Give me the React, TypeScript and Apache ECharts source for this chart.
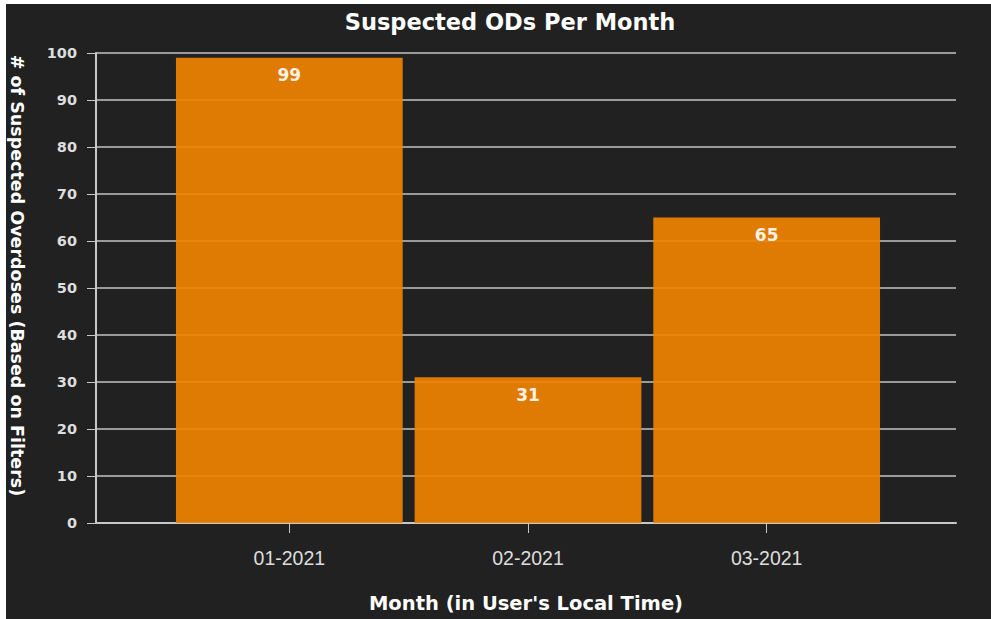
import React, { useEffect, useRef } from "react";
import * as echarts from "echarts";

const categories = ["01-2021", "02-2021", "03-2021"];
const values = [99, 31, 65];
const titleText = "Suspected ODs Per Month";
const yName = "# of Suspected Overdoses (Based on Filters)";
const xName = "Month (in User's Local Time)";

const FONT = 'Arial, "Liberation Sans", sans-serif';
const WIDE = '"DejaVu Sans", Verdana, sans-serif';

export default function App() {
  const ref = useRef<HTMLDivElement>(null);
  useEffect(() => {
    if (!ref.current) return;
    const chart = echarts.init(ref.current, undefined, { renderer: "svg" });
    chart.setOption({
      animation: false,
      backgroundColor: "#ffffff",
      textStyle: { fontFamily: FONT },
      graphic: [
        {
          type: "rect",
          z: -10,
          silent: true,
          shape: { x: 6, y: 4, width: 985, height: 615 },
          style: { fill: "#212121" },
        },
      ],
      title: {
        text: titleText,
        left: 505,
        top: 5,
        textAlign: "center",
        textStyle: { color: "#ffffff", fontSize: 22.5, fontWeight: "bold", fontFamily: WIDE },
      },
      grid: [
        { left: 96, right: 35, top: 53, bottom: 96, outerBoundsMode: "none", containLabel: false },
        { left: 170, right: 105, top: 53, bottom: 96, outerBoundsMode: "none", containLabel: false },
      ],
      xAxis: [
        {
          type: "category",
          gridIndex: 0,
          data: categories,
          axisLine: { show: true, lineStyle: { color: "#c8c8c8", width: 2 } },
          axisTick: { show: false },
          axisLabel: { show: false },
          splitLine: { show: false },
          name: xName,
          nameLocation: "middle",
          nameGap: 70,
          nameTextStyle: { color: "#ffffff", fontSize: 19.5, fontWeight: "bold", fontFamily: WIDE },
        },
        {
          type: "category",
          gridIndex: 1,
          data: categories,
          axisLine: { show: false },
          axisTick: { show: true, alignWithLabel: true, length: 10, lineStyle: { color: "#c8c8c8", width: 1 } },
          axisLabel: { color: "#dddddd", fontSize: 19.5, margin: 25, fontFamily: FONT },
          splitLine: { show: false },
        },
      ],
      yAxis: [
        {
          type: "value",
          gridIndex: 0,
          min: 0,
          max: 100,
          interval: 10,
          axisLine: { show: true, lineStyle: { color: "#c8c8c8", width: 2 } },
          axisTick: { show: true, length: 9, lineStyle: { color: "#c8c8c8", width: 1 } },
          axisLabel: { color: "#dddddd", fontSize: 14.5, fontWeight: "bold", margin: 19, fontFamily: WIDE },
          splitLine: { show: true, lineStyle: { color: "#9a9a9a", width: 2 } },
          name: yName,
          nameLocation: "middle",
          nameRotate: -90,
          nameGap: 70,
          nameTextStyle: {
            color: "#ffffff",
            fontSize: 17.5,
            fontWeight: "bold",
            fontFamily: WIDE,
            padding: [0, 25, 0, 0],
          },
        },
        {
          type: "value",
          gridIndex: 1,
          min: 0,
          max: 100,
          interval: 10,
          show: false,
          splitLine: { show: false },
        },
      ],
      series: [
        {
          type: "bar",
          xAxisIndex: 1,
          yAxisIndex: 1,
          data: values,
          barCategoryGap: "5%",
          itemStyle: { color: "#f08301", opacity: 0.92 },
          label: {
            show: true,
            position: "insideTop",
            distance: 9,
            color: "#ffffff",
            fontSize: 17,
            fontWeight: "bold",
            fontFamily: WIDE,
          },
        },
      ],
    });
    return () => chart.dispose();
  }, []);
  return (
    <div
      ref={ref}
      style={{ position: "fixed", left: 0, top: 0, width: 991, height: 619 }}
    />
  );
}
